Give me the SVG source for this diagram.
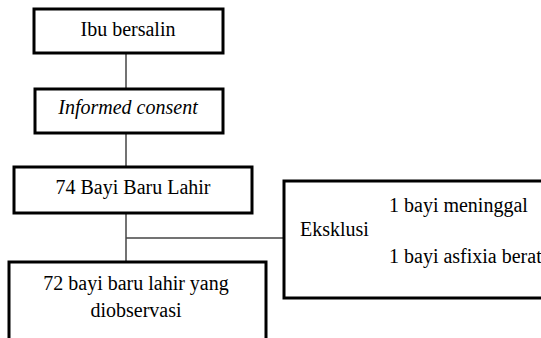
<svg xmlns="http://www.w3.org/2000/svg" width="541" height="338" viewBox="0 0 541 338">
<style>
.box{fill:#fff;stroke:#000;stroke-width:3}
.t{font-family:"Liberation Serif",serif;font-size:20px;fill:#000}
.c{text-anchor:middle}
.ln{stroke:#444;stroke-width:1.5;fill:none}
</style>
<rect width="541" height="338" fill="#fff"/>
<g id="connectors">
<line class="ln" x1="126" y1="53" x2="126" y2="88"/>
<line class="ln" x1="126" y1="133" x2="126" y2="166"/>
<line class="ln" x1="126" y1="213" x2="126" y2="262"/>
<line class="ln" x1="126" y1="238" x2="284" y2="238"/>
</g>
<g id="n1"><rect class="box" x="34" y="9" width="189" height="44"/><text class="t c" x="128" y="36">Ibu bersalin</text></g>
<g id="n2"><rect class="box" x="35" y="89" width="188" height="44"/><text class="t c" x="128" y="114" font-style="italic">Informed consent</text></g>
<g id="n3"><rect class="box" x="14" y="167" width="238" height="46"/><text class="t c" x="133" y="194">74 Bayi Baru Lahir</text></g>
<g id="n4"><rect class="box" x="9" y="262" width="257" height="90"/><text class="t c" x="136" y="290">72 bayi baru lahir yang</text><text class="t c" x="136" y="317">diobservasi</text></g>
<g id="n5"><rect class="box" x="284" y="181" width="270" height="117"/><text class="t" x="300" y="236">Eksklusi</text><text class="t" x="389" y="212">1 bayi meninggal</text><text class="t" x="389" y="263">1 bayi asfixia berat</text></g>
</svg>
